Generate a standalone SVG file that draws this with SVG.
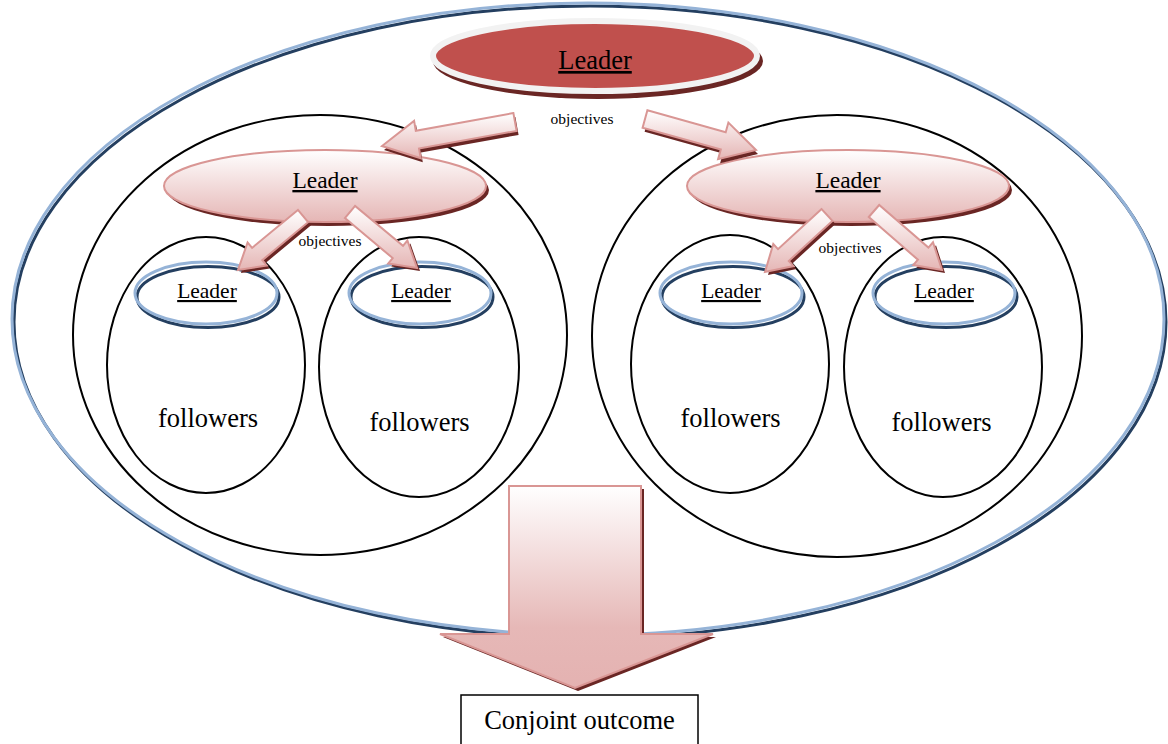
<svg xmlns="http://www.w3.org/2000/svg" width="1168" height="744" viewBox="0 0 1168 744" font-family="'Liberation Serif', 'Times New Roman', serif">
  <style>
    .ring { fill: none; stroke: #000; stroke-width: 2; }
    .rimLight { fill: none; stroke: #95B3D7; stroke-width: 3; }
    .rimDark { fill: none; stroke: #243F60; stroke-width: 3; }
    .pink { fill: url(#pinkFill); stroke: #D99694; stroke-width: 2; }
    .shadow { fill: #6A2624; stroke: none; }
    text { font-family: 'Liberation Serif', 'Times New Roman', serif; fill: #000; text-anchor: middle; }
    .lead { text-decoration: underline; }
  </style>
  <defs>
    <linearGradient id="pinkFill" x1="0" y1="0" x2="0" y2="1">
      <stop offset="0" stop-color="#FFFFFF"/>
      <stop offset="1" stop-color="#E5B6B5"/>
    </linearGradient>
    <linearGradient id="bigFill" gradientUnits="userSpaceOnUse" x1="0" y1="486" x2="0" y2="688">
      <stop offset="0" stop-color="#FFFFFF"/>
      <stop offset="0.7" stop-color="#E6B8B7"/>
      <stop offset="1" stop-color="#E4B2B1"/>
    </linearGradient>
  </defs>

  <!-- outer boundary -->
  <g id="outer">
    <ellipse class="rimDark" cx="590" cy="322" rx="576" ry="316"/>
    <ellipse class="rimLight" cx="588" cy="319" rx="576" ry="316"/>
  </g>

  <!-- second-level groups -->
  <g id="groupLeft">
    <ellipse class="ring" cx="320" cy="335" rx="247" ry="220"/>
  </g>
  <g id="groupRight">
    <ellipse class="ring" cx="837" cy="336" rx="245" ry="221"/>
  </g>

  <!-- teams -->
  <g id="teamA">
    <ellipse class="ring" cx="206" cy="365" rx="99" ry="128"/>
    <ellipse class="rimDark" cx="208" cy="297" rx="71" ry="30.5"/>
    <ellipse class="rimLight" cx="206" cy="293" rx="71" ry="31"/>
    <text class="lead" x="207" y="298" font-size="21.5">Leader</text>
    <text x="208" y="427" font-size="26.5">followers</text>
  </g>
  <g id="teamB">
    <ellipse class="ring" cx="419" cy="367" rx="100" ry="130"/>
    <ellipse class="rimDark" cx="422" cy="297" rx="71" ry="30.5"/>
    <ellipse class="rimLight" cx="420" cy="293" rx="71" ry="31"/>
    <text class="lead" x="421" y="298" font-size="21.5">Leader</text>
    <text x="419.5" y="431" font-size="26.5">followers</text>
  </g>
  <g id="teamC">
    <ellipse class="ring" cx="730" cy="364" rx="99" ry="129"/>
    <ellipse class="rimDark" cx="733" cy="297" rx="71" ry="30.5"/>
    <ellipse class="rimLight" cx="731" cy="293" rx="71" ry="31"/>
    <text class="lead" x="731" y="298" font-size="21.5">Leader</text>
    <text x="730.5" y="427" font-size="26.5">followers</text>
  </g>
  <g id="teamD">
    <ellipse class="ring" cx="943" cy="367" rx="99" ry="130"/>
    <ellipse class="rimDark" cx="946" cy="297" rx="71" ry="30.5"/>
    <ellipse class="rimLight" cx="944" cy="293" rx="71" ry="31"/>
    <text class="lead" x="944" y="298" font-size="21.5">Leader</text>
    <text x="941.5" y="431" font-size="26.5">followers</text>
  </g>

  <!-- middle leaders -->
  <g id="leaderLeft">
    <ellipse class="shadow" cx="328" cy="190" rx="161" ry="36"/>
    <ellipse class="pink" cx="325" cy="186" rx="161" ry="36"/>
    <text class="lead" x="325" y="188" font-size="23.5">Leader</text>
  </g>
  <g id="leaderRight">
    <ellipse class="shadow" cx="851" cy="190" rx="161" ry="36"/>
    <ellipse class="pink" cx="848" cy="186" rx="161" ry="36"/>
    <text class="lead" x="848" y="188" font-size="23.5">Leader</text>
  </g>

  <!-- top leader -->
  <g id="leaderTop">
    <ellipse class="shadow" cx="598" cy="61" rx="165" ry="38"/>
    <ellipse cx="595" cy="56" rx="162" ry="35" fill="#C0504D" stroke="#F2F2F2" stroke-width="6"/>
    <text class="lead" x="595" y="69" font-size="26.5">Leader</text>
  </g>

  <!-- objective arrows -->
  <g id="connectors">
    <polygon class="shadow" transform="translate(2,4)" points="513.4,113.1 415.8,130.8 414.1,120.9 382,146 420.8,158.3 419,148.5 516.6,130.9"/>
    <polygon class="pink" points="513.4,113.1 415.8,130.8 414.1,120.9 382,146 420.8,158.3 419,148.5 516.6,130.9"/>

    <polygon class="shadow" transform="translate(2,4)" points="642.6,127.7 720.8,149.5 718.1,159.2 756,150 728.4,122.6 725.7,132.2 647.4,110.3"/>
    <polygon class="pink" points="642.6,127.7 720.8,149.5 718.1,159.2 756,150 728.4,122.6 725.7,132.2 647.4,110.3"/>

    <polygon class="shadow" transform="translate(3,3)" points="297.9,209.9 252.1,247.9 247.6,242.5 238,270 266.8,265.6 262.3,260.2 308.1,222.2"/>
    <polygon class="pink" points="297.9,209.9 252.1,247.9 247.6,242.5 238,270 266.8,265.6 262.3,260.2 308.1,222.2"/>

    <polygon class="shadow" transform="translate(3,3)" points="344.9,218.1 392.7,258.1 388.2,263.5 417,268 407.4,240.5 403,245.8 355.1,205.9"/>
    <polygon class="pink" points="344.9,218.1 392.7,258.1 388.2,263.5 417,268 407.4,240.5 403,245.8 355.1,205.9"/>

    <polygon class="shadow" transform="translate(3,3)" points="821.6,209.1 778,249.2 773.3,244 765,272 793.6,266.1 788.8,261 832.4,220.9"/>
    <polygon class="pink" points="821.6,209.1 778,249.2 773.3,244 765,272 793.6,266.1 788.8,261 832.4,220.9"/>

    <polygon class="shadow" transform="translate(3,3)" points="868.8,217 917.9,259.7 913.3,265 942,270 933,242.3 928.4,247.6 879.2,205"/>
    <polygon class="pink" points="868.8,217 917.9,259.7 913.3,265 942,270 933,242.3 928.4,247.6 879.2,205"/>

    <!-- outcome arrow -->
    <polygon class="shadow" transform="translate(3,3)" points="509,486 641,486 641,634 713,634 575,688 440,634 509,634"/>
    <polygon points="509,486 641,486 641,634 713,634 575,688 440,634 509,634" fill="url(#bigFill)" stroke="#D99694" stroke-width="2"/>
  </g>

  <g id="labels">
    <text x="582" y="124" font-size="15.5">objectives</text>
    <text x="330" y="246" font-size="15.5">objectives</text>
    <text x="850" y="253" font-size="15.5">objectives</text>
  </g>

  <!-- result box -->
  <g id="outcome">
    <rect x="461" y="695" width="237" height="60" fill="#FFFFFF" stroke="#000" stroke-width="1.5"/>
    <text x="579.5" y="729" font-size="26.5">Conjoint outcome</text>
  </g>
</svg>
